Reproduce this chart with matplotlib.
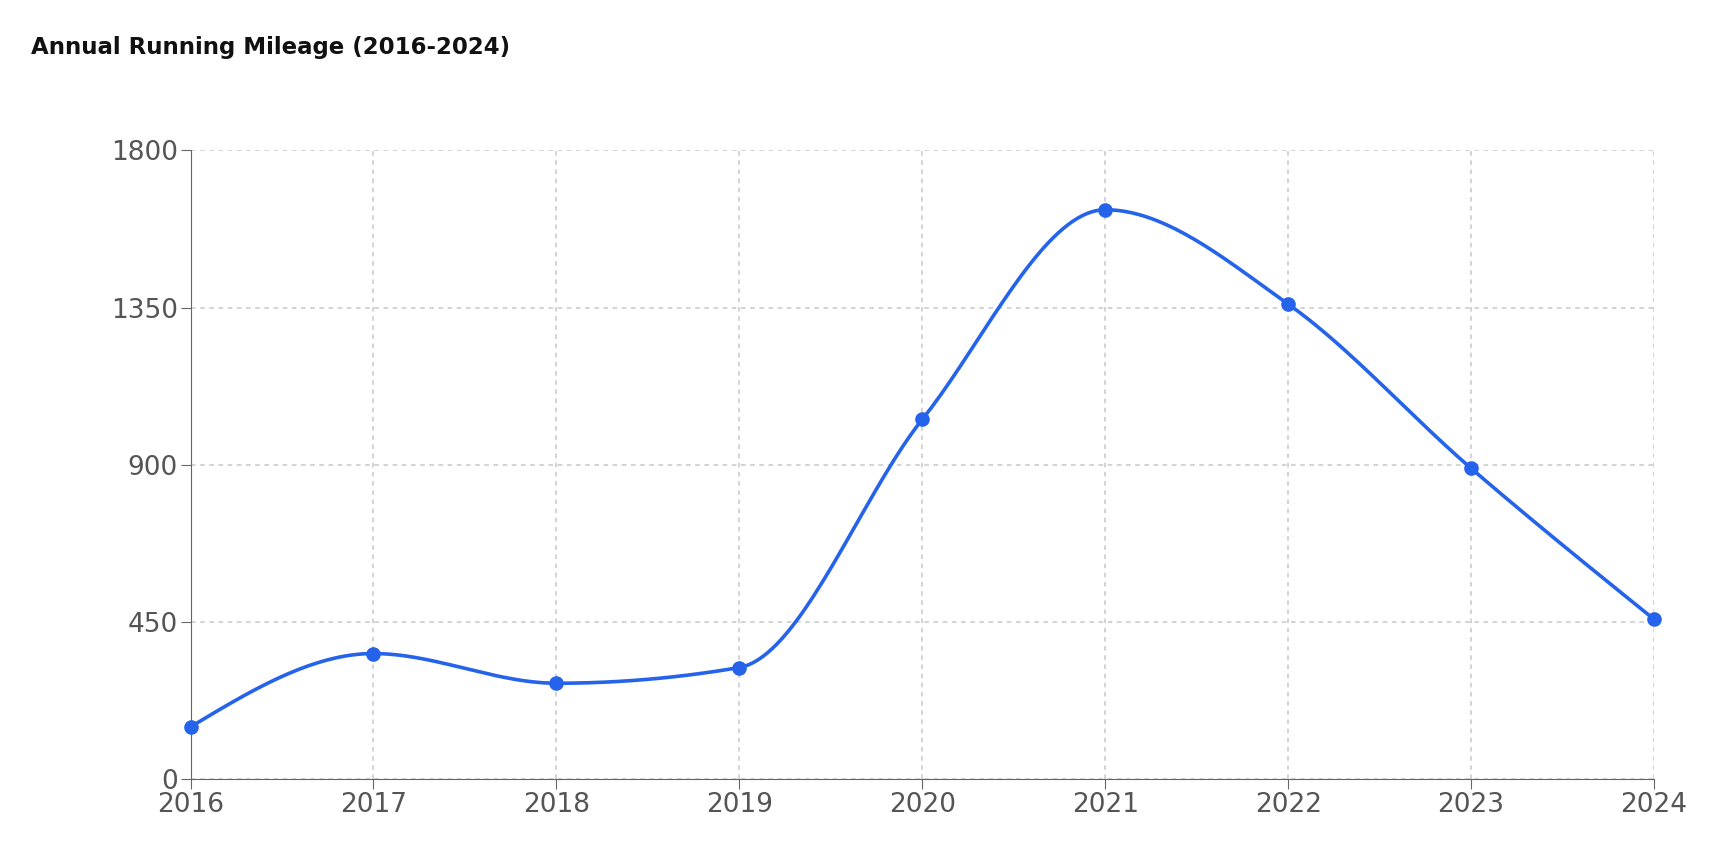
import matplotlib
matplotlib.use("Agg")
import matplotlib.pyplot as plt
import numpy as np

years = [2016, 2017, 2018, 2019, 2020, 2021, 2022, 2023, 2024]
mileage = [150, 360, 275, 320, 1030, 1630, 1360, 890, 458]
yticks = [0, 450, 900, 1350, 1800]

def monotone(x, y, n=40):
    x = np.asarray(x, float); y = np.asarray(y, float)
    h = np.diff(x); s = np.diff(y) / h
    m = np.zeros_like(y)
    for i in range(1, len(y) - 1):
        if s[i-1] * s[i] <= 0:
            m[i] = 0
        else:
            p = (s[i-1]*h[i] + s[i]*h[i-1]) / (h[i-1] + h[i])
            m[i] = np.sign(s[i-1]) * min(abs(s[i-1]), abs(s[i]), 0.5*abs(p)) * 2
    m[0] = (3*s[0] - m[1]) / 2
    m[-1] = (3*s[-1] - m[-2]) / 2
    xs, ys = [], []
    for i in range(len(h)):
        t = np.linspace(0, 1, n)
        h00 = 2*t**3 - 3*t**2 + 1; h10 = t**3 - 2*t**2 + t
        h01 = -2*t**3 + 3*t**2; h11 = t**3 - t**2
        xs.append(x[i] + t*h[i])
        ys.append(h00*y[i] + h10*h[i]*m[i] + h01*y[i+1] + h11*h[i]*m[i+1])
    return np.concatenate(xs), np.concatenate(ys)

fig = plt.figure(figsize=(17.32, 8.64), dpi=100)
ax = fig.add_axes([0.110, 0.098, 0.845, 0.728])
cx, cy = monotone(years, mileage)
ax.plot(cx, cy, color="#2563eb", lw=2.6, zorder=3, clip_on=False)
ax.plot(years, mileage, "o", color="#2563eb", ms=9.5, zorder=4, clip_on=False)
ax.set_xlim(2016, 2024); ax.set_ylim(0, 1800)
ax.set_xticks(years); ax.set_yticks(yticks)
ax.grid(True, ls=(0, (3, 3)), color="#c8c8c8", lw=1.1)
for sp in ["top", "right"]:
    ax.spines[sp].set_visible(False)
for sp in ["left", "bottom"]:
    ax.spines[sp].set_color("#666666")
ax.tick_params(colors="#666666", labelsize=19, length=7, pad=2)
for lab in ax.get_xticklabels() + ax.get_yticklabels():
    lab.set_color("#555555")
fig.text(0.018, 0.945, "Annual Running Mileage (2016-2024)", fontsize=16.5, fontweight="bold", color="#111111", va="center")
fig.savefig("out.png")
